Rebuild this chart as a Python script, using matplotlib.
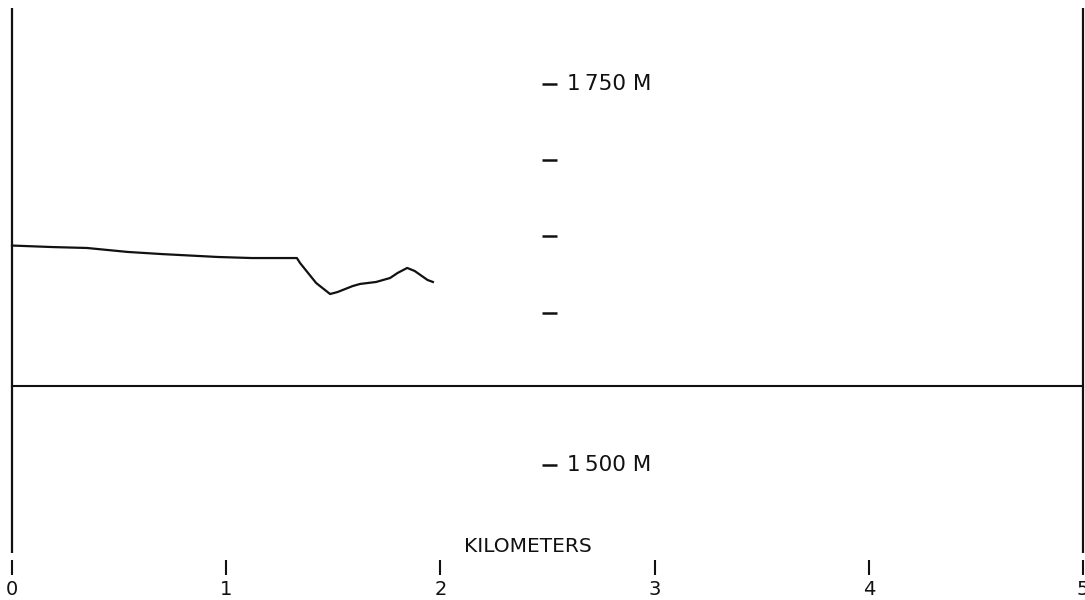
import matplotlib
matplotlib.use("Agg")
import matplotlib.pyplot as plt

# Data
profile_km = [0.0, 0.19, 0.35, 0.54, 0.70, 0.96, 1.12, 1.33, 1.345, 1.42, 1.485, 1.52,
              1.59, 1.625, 1.70, 1.765, 1.80, 1.845, 1.88, 1.94, 1.965]
profile_m = [1644, 1643, 1642.4, 1639.8, 1638.4, 1636.5, 1635.8, 1635.8, 1632.5, 1619.4,
             1612.2, 1613.5, 1617.4, 1618.8, 1620.1, 1622.7, 1626.0, 1629.3, 1627.3,
             1621.4, 1620.1]
depth_ticks = [1750, 1700, 1650, 1600, 1500]
depth_labels = {1750: "1\u2009750 M", 1500: "1\u2009500 M"}
km_ticks = [0, 1, 2, 3, 4, 5]
km_labels = ["0", "1", "2", "3", "4", "5"]
baseline_m = 1552
frame_top, frame_bottom = 1800, 1442

fig = plt.figure(figsize=(10.85, 6.0), dpi=100)
ax = fig.add_axes([0, 0, 1, 1])
ax.set_xlim(-12 / 214.2, (1085 - 12) / 214.2)
ax.set_ylim(1750 - 516 * 50 / 76.2, 1750 + 84 * 50 / 76.2)
ax.axis("off")

col = "#111111"
# frame verticals
for xv in (0, 5):
    ax.plot([xv, xv], [frame_top, frame_bottom], color=col, lw=1.6, solid_capstyle="butt")
# baseline
ax.plot([0, 5], [baseline_m, baseline_m], color=col, lw=1.5)
# profile
ax.plot(profile_km, profile_m, color=col, lw=1.6, solid_joinstyle="round")

# depth scale dashes
for d in depth_ticks:
    ax.plot([2.474, 2.544], [d, d], color=col, lw=1.8, solid_capstyle="butt")
    if d in depth_labels:
        ax.text(2.59, d, depth_labels[d], fontsize=15.5, color=col, va="center", ha="left",
                family="DejaVu Sans")

# km ticks
for k, lab in zip(km_ticks, km_labels):
    ax.plot([k, k], [1437.5, 1428.0], color=col, lw=1.5, solid_capstyle="butt")
    ax.text(k, 1418, lab, fontsize=14, color=col, ha="center", va="center",
            family="DejaVu Sans")

ax.text(2.41, 1446.8, "KILOMETERS", fontsize=14.5, color=col,
        ha="center", va="center", family="DejaVu Sans")

fig.savefig("out.png", dpi=100, facecolor="white")
